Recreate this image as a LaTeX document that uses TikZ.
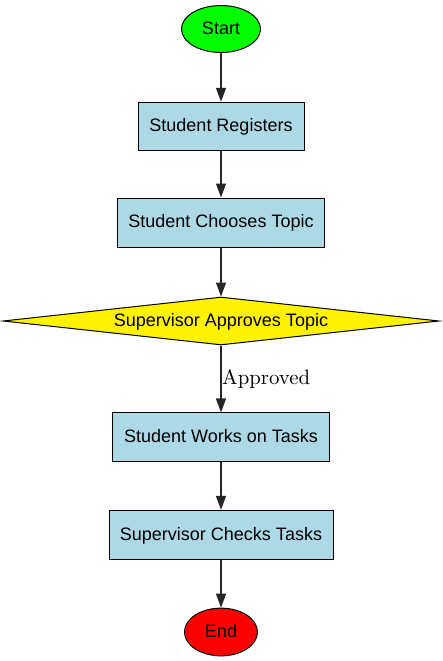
\documentclass[tikz,border=0pt]{standalone}
\usepackage{fontspec}
\newfontfamily\arialfont{Liberation Sans}
\newfontfamily\lmten{lmroman10-regular.otf}
\usetikzlibrary{shapes.geometric,arrows.meta}
\tikzset{
  base/.style={draw=black, line width=1pt, inner sep=0pt, text height=14pt, text depth=3.2pt, font=\arialfont\fontsize{18}{20}\selectfont},
  term/.style={base, ellipse},
  procbox/.style={base, rectangle, fill={rgb,255:red,173;green,216;blue,230}},
  decision/.style={base, diamond, aspect=9},
  flow/.style={draw=black!85, line width=1.3pt, -{Triangle[length=14pt,width=10pt]}},
}
\begin{document}
\begin{tikzpicture}[x=1pt,y=-1pt]
\useasboundingbox (0,0) rectangle (442,661);
\node[term, fill=green, minimum width=79pt, minimum height=47pt] (start) at (221,29) {Start};
\node[procbox, minimum width=166pt, minimum height=48pt] (reg) at (221,126.3) {Student Registers};
\node[procbox, minimum width=207pt, minimum height=49pt] (choose) at (221,222.5) {Student Chooses Topic};
\node[decision, fill=yellow, minimum width=436pt, minimum height=48pt] (approve) at (221,321) {};
\node[base, draw=none] (approvetext) at (221,321) {Supervisor Approves Topic};
\node[procbox, minimum width=216.6pt, minimum height=48.7pt] (works) at (221,437.3) {Student Works on Tasks};
\node[procbox, minimum width=224pt, minimum height=48.7pt] (checks) at (221,534.7) {Supervisor Checks Tasks};
\node[term, fill=red, minimum width=73pt, minimum height=47.7pt] (end) at (221,632) {End};
\draw[flow] (start) -- (reg);
\draw[flow] (reg) -- (choose);
\draw[flow] (choose) -- (approve.north);
\draw[flow] (approve.south) -- (works);
\draw[flow] (works) -- (checks);
\draw[flow] (checks) -- (end);
\node[anchor=base west, inner sep=0pt, font=\lmten\fontsize{20.8}{25}\selectfont] (lbl) at (222,384) {Approved};
\end{tikzpicture}
\end{document}
